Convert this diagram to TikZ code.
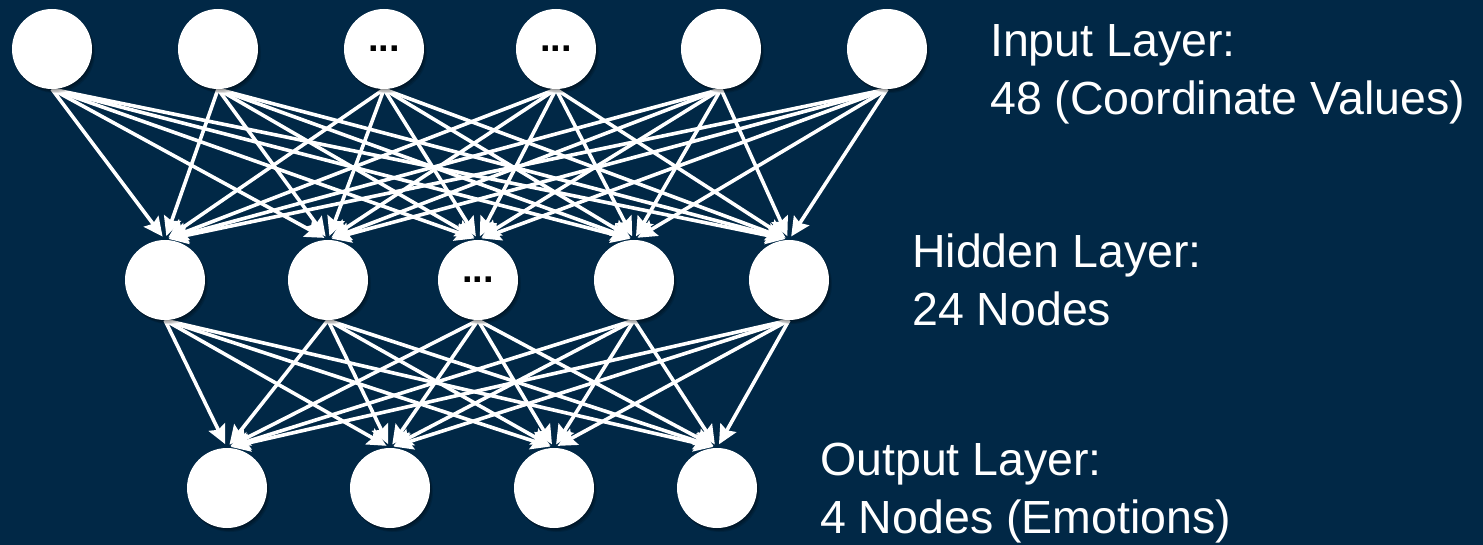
\documentclass[tikz,border=0pt]{standalone}
\usepackage{fontspec}
\setmainfont{Liberation Sans}
\setsansfont{Liberation Sans}
\usetikzlibrary{arrows.meta}
\definecolor{bgnavy}{RGB}{1,40,70}
\pgfdeclarelayer{edgelayer}
\pgfsetlayers{edgelayer,main}
\begin{document}
\begin{tikzpicture}[x=1pt,y=-1pt,
  neuron/.style={circle,fill=white,minimum size=80pt,inner sep=0pt,
    font=\fontsize{38}{38}\selectfont\bfseries,text=black,
    preaction={fill=black,fill opacity=0.12,transform canvas={shift={(3pt,-4pt)}}},
    preaction={fill=black,fill opacity=0.15,transform canvas={shift={(2pt,-3pt)}}},
    preaction={fill=black,fill opacity=0.18,transform canvas={shift={(1pt,-1.5pt)}}}},
  conn/.style={draw=white,line width=3.6pt,shorten >=4pt,
    -{Stealth[length=19pt,width=18pt,inset=3pt]}},
  layerlabel/.style={anchor=base west,inner sep=0pt,align=left,text=white,
    font=\fontsize{46.5}{58}\selectfont}]
\begin{pgfonlayer}{edgelayer}
  \fill[bgnavy] (0,0) rectangle (1483,545);
\end{pgfonlayer}
\useasboundingbox (0,0) rectangle (1483,545);
% input layer
\node[neuron] (i1) at (52,49) {};
\node[neuron] (i2) at (218,49) {};
\node[neuron] (i3) at (384,49) {\raisebox{-5pt}{...}};
\node[neuron] (i4) at (556,49) {\raisebox{-5pt}{...}};
\node[neuron] (i5) at (721,49) {};
\node[neuron] (i6) at (887,49) {};
% hidden layer
\node[neuron] (h1) at (165,280) {};
\node[neuron] (h2) at (328,280) {};
\node[neuron] (h3) at (478,280) {\raisebox{-5pt}{...}};
\node[neuron] (h4) at (634,280) {};
\node[neuron] (h5) at (789,280) {};
% output layer
\node[neuron] (o1) at (227,488) {};
\node[neuron] (o2) at (390,488) {};
\node[neuron] (o3) at (554,488) {};
\node[neuron] (o4) at (717,488) {};
% connections
\begin{pgfonlayer}{edgelayer}
\foreach \s in {1,...,6}{
  \foreach \t in {1,...,5}{
    \draw[conn] (i\s.south) -- (h\t.north);
  }
}
\foreach \s in {1,...,5}{
  \foreach \t in {1,...,4}{
    \draw[conn] (h\s.south) -- (o\t.north);
  }
}
\end{pgfonlayer}
% labels
\node[layerlabel] (linput) at (990,115) {Input Layer:\\48 (Coordinate Values)};
\node[layerlabel] (lhidden) at (912,325) {Hidden Layer:\\24 Nodes};
\node[layerlabel] (loutput) at (820,533) {Output Layer:\\4 Nodes (Emotions)};
\end{tikzpicture}
\end{document}
